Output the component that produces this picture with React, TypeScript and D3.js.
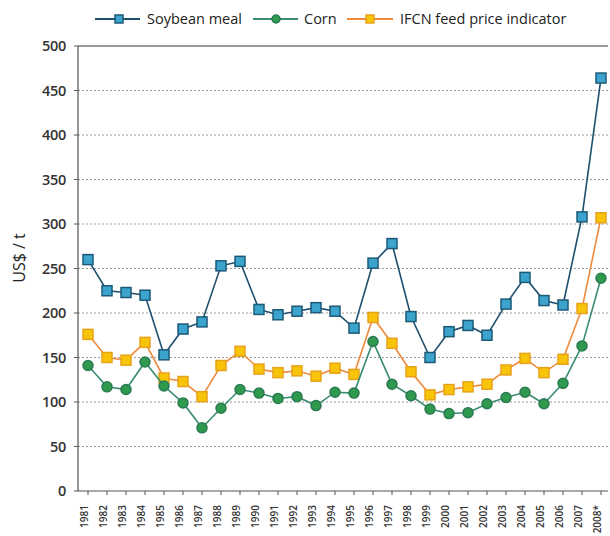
import React from "react";
import * as d3 from "d3";

const years = ["1981","1982","1983","1984","1985","1986","1987","1988","1989","1990","1991","1992","1993","1994","1995","1996","1997","1998","1999","2000","2001","2002","2003","2004","2005","2006","2007","2008*"];
const soybean = [260,225,223,220,153,182,190,253,258,204,198,202,206,202,183,256,278,196,150,179,186,175,210,240,214,209,308,464];
const corn = [141,117,114,145,118,99,71,93,114,110,104,106,96,111,110,168,120,107,92,87,88,98,105,111,98,121,163,239];
const ifcn = [176,150,147,167,127,123,106,141,157,137,133,135,129,138,131,195,166,134,108,114,117,120,136,149,133,148,205,307];
const yTicks = [0,50,100,150,200,250,300,350,400,450,500];

const W = 610, H = 536;
const left = 78, right = 608, top = 46, bottom = 491;

export default function App() {
  const x = d3.scalePoint<string>().domain(years).range([88, 601]);
  const y = d3.scaleLinear().domain([0, 500]).range([bottom, top]);
  const line = d3.line<number>().x((_, i) => x(years[i])!).y(d => y(d));

  const series = [
    { name: "Soybean meal", data: soybean, line: "#1f4f6e", fill: "#3ba3cc", stroke: "#1d5a78", shape: "square" },
    { name: "Corn", data: corn, line: "#3b8c72", fill: "#2f9a4e", stroke: "#2a7a52", shape: "circle" },
    { name: "IFCN feed price indicator", data: ifcn, line: "#ee8a3c", fill: "#f7c40a", stroke: "#e8a21a", shape: "square" },
  ];
  const order = [series[2], series[1], series[0]];

  const marker = (s: any, cx: number, cy: number, key: any, sz = 10) =>
    s.shape === "square" ? (
      <rect key={key} x={cx - sz / 2} y={cy - sz / 2} width={sz} height={sz} fill={s.fill} stroke={s.stroke} strokeWidth={1.5} />
    ) : (
      <circle key={key} cx={cx} cy={cy} r={sz / 2} fill={s.fill} stroke={s.stroke} strokeWidth={1.5} />
    );

  const legend = [
    { s: series[0], x0: 95, x1: 140, mx: 119, tx: 147 },
    { s: series[1], x0: 253, x1: 298, mx: 276, tx: 304 },
    { s: series[2], x0: 347, x1: 393, mx: 370, tx: 400 },
  ];

  return (
    <svg width={W} height={H} style={{ position: "absolute", left: 0, top: 0, background: "#fff" }} fontFamily="'Open Sans', sans-serif">
      {yTicks.filter(t => t > 0).map(t => (
        <line key={t} x1={left} x2={right} y1={y(t)} y2={y(t)} stroke="#9a9a9a" strokeWidth={1} strokeDasharray={t === 500 ? undefined : "2,2"} />
      ))}
      <line x1={left} x2={left} y1={top} y2={bottom} stroke="#555" strokeWidth={1.2} />
      <line x1={left} x2={right} y1={bottom} y2={bottom} stroke="#555" strokeWidth={1.2} />
      <line x1={left} x2={right} y1={top} y2={top} stroke="#666" strokeWidth={1} />
      {yTicks.map(t => (
        <g key={t}>
          <line x1={left - 4} x2={left} y1={y(t)} y2={y(t)} stroke="#555" />
          <text x={66} y={y(t)} dy="0.36em" textAnchor="end" fontSize={14.5} fontWeight={600} fill="#333" letterSpacing={-0.3}>{t}</text>
        </g>
      ))}
      {years.map(yr => (
        <g key={yr}>
          <line x1={x(yr)!} x2={x(yr)!} y1={bottom} y2={bottom + 4} stroke="#555" />
          <text transform={`translate(${x(yr)! - 0.5},${bottom + 14}) rotate(-90)`} textAnchor="end" fontSize={10} fontWeight={600} fill="#333">{yr}</text>
        </g>
      ))}
      <text transform={`translate(25,258) rotate(-90)`} textAnchor="middle" fontSize={16} fill="#222">US$ / t</text>
      {order.map(s => (
        <g key={s.name}>
          <path d={line(s.data)!} fill="none" stroke={s.line} strokeWidth={1.6} />
          {s.data.map((v, i) => marker(s, x(years[i])!, y(v), i))}
        </g>
      ))}
      {legend.map(l => (
        <g key={l.s.name}>
          <line x1={l.x0} x2={l.x1} y1={19} y2={19} stroke={l.s.line} strokeWidth={1.8} />
          {marker(l.s, l.mx, 19, "m", 8)}
          <text x={l.tx} y={19} dy="0.35em" fontSize={14.5} fill="#222">{l.s.name}</text>
        </g>
      ))}
    </svg>
  );
}
